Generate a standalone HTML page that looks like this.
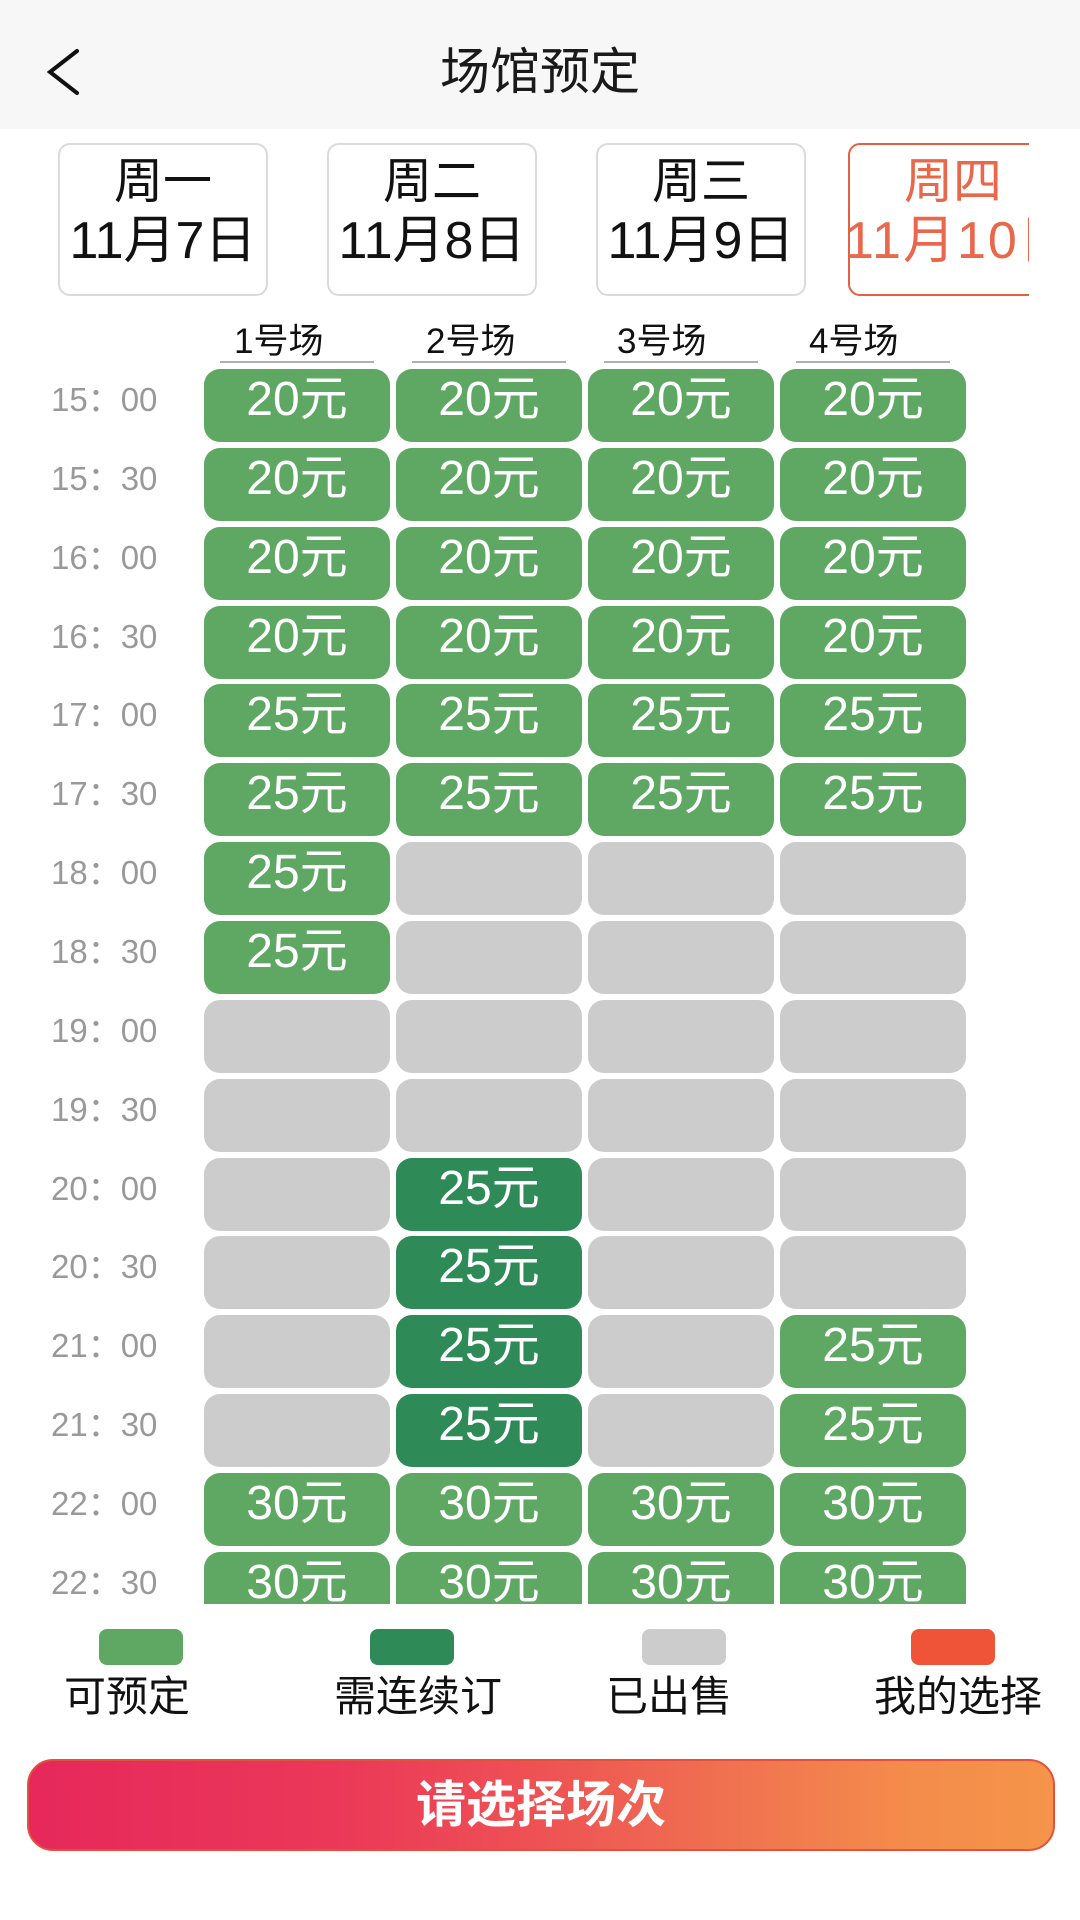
<!DOCTYPE html>
<html>
<head>
<meta charset="utf-8">
<style>
*{margin:0;padding:0;box-sizing:border-box;}
html,body{width:1080px;height:1920px;background:#fff;overflow:hidden;}
body{position:relative;font-family:"Liberation Sans","Noto Sans CJK SC",sans-serif;color:#111;}
#hdr{position:absolute;left:0;top:0;width:1080px;height:129px;background:#f7f7f7;}
#title{position:absolute;left:0;width:1080px;top:41px;height:62px;line-height:62px;text-align:center;font-size:50px;color:#1a1a1a;}
#dates{position:absolute;left:0;top:140px;width:1029px;height:170px;overflow:hidden;}
.card{position:absolute;top:3px;width:210px;height:153px;border:2px solid #dadada;border-radius:12px;background:#fff;}
.card .l1{position:absolute;left:-60px;right:-60px;top:9px;height:56px;line-height:56px;text-align:center;font-size:49px;white-space:nowrap;}
.card .l2{position:absolute;left:-60px;right:-60px;top:68px;height:56px;line-height:56px;text-align:center;font-size:52px;white-space:nowrap;}
.card.sel{border-color:#e5603f;color:#e9684b;}
.card.sel .l2{left:-5px;right:auto;text-align:left;letter-spacing:2px;}
.ch{position:absolute;top:322px;height:40px;line-height:40px;font-size:35px;color:#111;white-space:nowrap;}
.ul{position:absolute;top:361px;width:154px;height:2px;background:#b0b0b0;}
#grid{position:absolute;left:0;top:364px;width:1080px;height:1240px;overflow:hidden;}
.t{position:absolute;left:51px;height:40px;line-height:40px;font-size:33px;color:#999;white-space:nowrap;}
.c{position:absolute;width:186px;height:73px;border-radius:16px;text-align:center;line-height:62px;font-size:48px;color:#fff;white-space:nowrap;}
.g{background:#5ea864;}
.d{background:#2e8b57;}
.x{background:#cccccc;}
.sw{position:absolute;top:1629px;width:84px;height:36px;border-radius:8px;}
.lt{position:absolute;top:1674px;height:46px;line-height:46px;font-size:42px;color:#111;white-space:nowrap;}
#btn{position:absolute;left:27px;top:1759px;width:1028px;height:92px;border-radius:26px;border:2px solid #e4503e;
background:linear-gradient(to right,#e6285b 0%,#eb3858 30%,#ee5254 50%,#f07150 68%,#f48b4b 85%,#f5944a 100%);
color:#fff;font-weight:bold;font-size:50px;text-align:center;line-height:88px;}
</style>
</head>
<body>
<div id="hdr">
  <svg width="1080" height="129" style="position:absolute;left:0;top:0">
    <polyline points="77,51 50,72 77,93" fill="none" stroke="#111" stroke-width="4" stroke-linecap="round" stroke-linejoin="miter"/>
  </svg>
  <div id="title">场馆预定</div>
</div>

<div id="dates">
  <div class="card" style="left:58px"><div class="l1">周一</div><div class="l2">11月7日</div></div>
  <div class="card" style="left:327px"><div class="l1">周二</div><div class="l2">11月8日</div></div>
  <div class="card" style="left:596px"><div class="l1">周三</div><div class="l2">11月9日</div></div>
  <div class="card sel" style="left:848px"><div class="l1">周四</div><div class="l2">11月10日</div></div>
</div>

<div class="ch" style="left:234px">1号场</div>
<div class="ch" style="left:426px">2号场</div>
<div class="ch" style="left:617px">3号场</div>
<div class="ch" style="left:809px">4号场</div>
<div class="ul" style="left:220px"></div>
<div class="ul" style="left:412px"></div>
<div class="ul" style="left:604px"></div>
<div class="ul" style="left:796px"></div>

<div id="grid">
  <div class="t" style="top:16px">15：00</div>
  <div class="c g" style="left:204px;top:5px">20元</div>
  <div class="c g" style="left:396px;top:5px">20元</div>
  <div class="c g" style="left:588px;top:5px">20元</div>
  <div class="c g" style="left:780px;top:5px">20元</div>

  <div class="t" style="top:95px">15：30</div>
  <div class="c g" style="left:204px;top:84px">20元</div>
  <div class="c g" style="left:396px;top:84px">20元</div>
  <div class="c g" style="left:588px;top:84px">20元</div>
  <div class="c g" style="left:780px;top:84px">20元</div>

  <div class="t" style="top:174px">16：00</div>
  <div class="c g" style="left:204px;top:163px">20元</div>
  <div class="c g" style="left:396px;top:163px">20元</div>
  <div class="c g" style="left:588px;top:163px">20元</div>
  <div class="c g" style="left:780px;top:163px">20元</div>

  <div class="t" style="top:253px">16：30</div>
  <div class="c g" style="left:204px;top:242px">20元</div>
  <div class="c g" style="left:396px;top:242px">20元</div>
  <div class="c g" style="left:588px;top:242px">20元</div>
  <div class="c g" style="left:780px;top:242px">20元</div>

  <div class="t" style="top:331px">17：00</div>
  <div class="c g" style="left:204px;top:320px">25元</div>
  <div class="c g" style="left:396px;top:320px">25元</div>
  <div class="c g" style="left:588px;top:320px">25元</div>
  <div class="c g" style="left:780px;top:320px">25元</div>

  <div class="t" style="top:410px">17：30</div>
  <div class="c g" style="left:204px;top:399px">25元</div>
  <div class="c g" style="left:396px;top:399px">25元</div>
  <div class="c g" style="left:588px;top:399px">25元</div>
  <div class="c g" style="left:780px;top:399px">25元</div>

  <div class="t" style="top:489px">18：00</div>
  <div class="c g" style="left:204px;top:478px">25元</div>
  <div class="c x" style="left:396px;top:478px"></div>
  <div class="c x" style="left:588px;top:478px"></div>
  <div class="c x" style="left:780px;top:478px"></div>

  <div class="t" style="top:568px">18：30</div>
  <div class="c g" style="left:204px;top:557px">25元</div>
  <div class="c x" style="left:396px;top:557px"></div>
  <div class="c x" style="left:588px;top:557px"></div>
  <div class="c x" style="left:780px;top:557px"></div>

  <div class="t" style="top:647px">19：00</div>
  <div class="c x" style="left:204px;top:636px"></div>
  <div class="c x" style="left:396px;top:636px"></div>
  <div class="c x" style="left:588px;top:636px"></div>
  <div class="c x" style="left:780px;top:636px"></div>

  <div class="t" style="top:726px">19：30</div>
  <div class="c x" style="left:204px;top:715px"></div>
  <div class="c x" style="left:396px;top:715px"></div>
  <div class="c x" style="left:588px;top:715px"></div>
  <div class="c x" style="left:780px;top:715px"></div>

  <div class="t" style="top:805px">20：00</div>
  <div class="c x" style="left:204px;top:794px"></div>
  <div class="c d" style="left:396px;top:794px">25元</div>
  <div class="c x" style="left:588px;top:794px"></div>
  <div class="c x" style="left:780px;top:794px"></div>

  <div class="t" style="top:883px">20：30</div>
  <div class="c x" style="left:204px;top:872px"></div>
  <div class="c d" style="left:396px;top:872px">25元</div>
  <div class="c x" style="left:588px;top:872px"></div>
  <div class="c x" style="left:780px;top:872px"></div>

  <div class="t" style="top:962px">21：00</div>
  <div class="c x" style="left:204px;top:951px"></div>
  <div class="c d" style="left:396px;top:951px">25元</div>
  <div class="c x" style="left:588px;top:951px"></div>
  <div class="c g" style="left:780px;top:951px">25元</div>

  <div class="t" style="top:1041px">21：30</div>
  <div class="c x" style="left:204px;top:1030px"></div>
  <div class="c d" style="left:396px;top:1030px">25元</div>
  <div class="c x" style="left:588px;top:1030px"></div>
  <div class="c g" style="left:780px;top:1030px">25元</div>

  <div class="t" style="top:1120px">22：00</div>
  <div class="c g" style="left:204px;top:1109px">30元</div>
  <div class="c g" style="left:396px;top:1109px">30元</div>
  <div class="c g" style="left:588px;top:1109px">30元</div>
  <div class="c g" style="left:780px;top:1109px">30元</div>

  <div class="t" style="top:1199px">22：30</div>
  <div class="c g" style="left:204px;top:1188px">30元</div>
  <div class="c g" style="left:396px;top:1188px">30元</div>
  <div class="c g" style="left:588px;top:1188px">30元</div>
  <div class="c g" style="left:780px;top:1188px">30元</div>
</div>

<div class="sw" style="left:99px;background:#5ea864"></div>
<div class="sw" style="left:370px;background:#2e8b57"></div>
<div class="sw" style="left:642px;background:#cccccc"></div>
<div class="sw" style="left:911px;background:#ef5338"></div>
<div class="lt" style="left:64px">可预定</div>
<div class="lt" style="left:334px">需连续订</div>
<div class="lt" style="left:606px">已出售</div>
<div class="lt" style="left:874px">我的选择</div>

<div id="btn">请选择场次</div>
</body>
</html>
